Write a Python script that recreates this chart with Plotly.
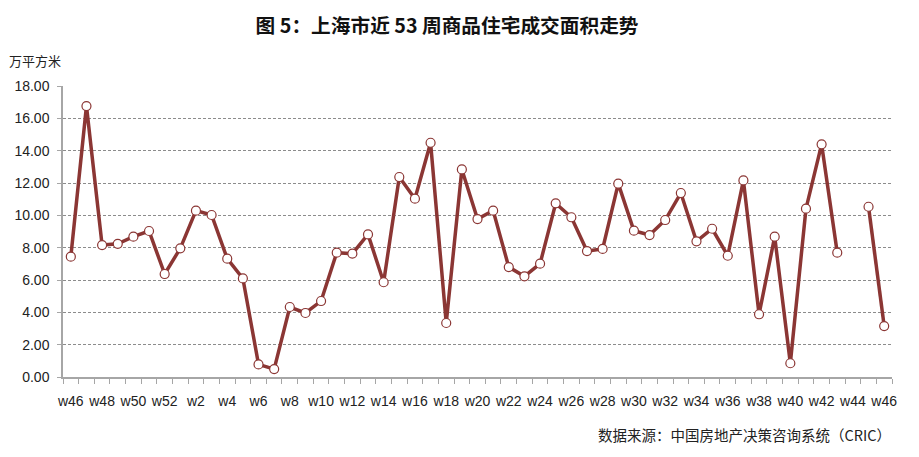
import plotly.graph_objects as go

weeks = ["w46", "w47", "w48", "w49", "w50", "w51", "w52"] + ["w%d" % i for i in range(1, 47)]
values = [7.44, 16.76, 8.16, 8.24, 8.68, 9.03, 6.37,
          7.96, 10.29, 10.02, 7.32, 6.10, 0.78, 0.49, 4.33, 3.96, 4.70,
          7.69, 7.63, 8.82, 5.86, 12.37, 11.03, 14.49, 3.34, 12.84, 9.77,
          10.29, 6.80, 6.23, 7.01, 10.74, 9.88, 7.79, 7.92, 11.96, 9.05,
          8.78, 9.71, 11.38, 8.39, 9.17, 7.50, 12.16, 3.88, 8.68, 0.85,
          10.41, 14.39, 7.69, None, 10.53, 3.15]
y_ticks = [0, 2, 4, 6, 8, 10, 12, 14, 16, 18]

idx = list(range(len(weeks)))
line_color = "#8B3634"

fig = go.Figure()
fig.add_trace(go.Scatter(
    x=idx, y=values, mode="lines+markers",
    line=dict(color=line_color, width=3.5),
    marker=dict(size=9, color="white", line=dict(color=line_color, width=1.2)),
    connectgaps=False, hoverinfo="skip", showlegend=False,
))

fig.update_layout(
    width=919, height=457,
    margin=dict(l=63, r=27, t=86, b=80),
    paper_bgcolor="white", plot_bgcolor="white",
    font=dict(family="Arial", size=14, color="#222"),
    title=dict(text="<b>图 5：上海市近 53 周商品住宅成交面积走势</b>",
               x=0.4865, xanchor="center", y=0.943, yanchor="middle",
               font=dict(family="Noto Sans CJK SC", size=19.7, color="#111")),
)

fig.update_xaxes(
    range=[-0.5, len(weeks) - 0.5],
    tickmode="array", tickvals=idx[::2], ticktext=weeks[::2],
    ticks="", showgrid=False, zeroline=False,
    showline=True, linecolor="#A6A6A6", linewidth=1.5,
    tickfont=dict(family="Arial", size=14, color="#222"),
    ticklabelstandoff=10,
    minor=dict(tickmode="array", tickvals=[i - 0.5 for i in range(len(weeks) + 1)],
               ticks="outside", ticklen=5, tickcolor="#A6A6A6", tickwidth=1, showgrid=False),
)
fig.update_yaxes(
    range=[0, 18], tickmode="array", tickvals=y_ticks,
    ticktext=["%.2f" % v for v in y_ticks],
    showgrid=True, gridcolor="#8C8C8C", griddash="3px,2px", gridwidth=1,
    zeroline=False, showline=True, linecolor="#A6A6A6", linewidth=1.5,
    ticks="outside", ticklen=4, tickcolor="#A6A6A6",
    tickfont=dict(family="Arial", size=14, color="#222"),
    ticklabelstandoff=5,
)

fig.add_annotation(text="万平方米", xref="paper", yref="paper", x=-0.067, y=1.089,
                   xanchor="left", yanchor="middle", showarrow=False,
                   font=dict(family="Noto Sans CJK SC", size=13, color="#222"))
fig.add_annotation(text="数据来源：中国房地产决策咨询系统（CRIC）", xref="paper", yref="paper",
                   x=1.001, y=-0.199, xanchor="right", yanchor="middle", showarrow=False,
                   font=dict(family="Noto Sans CJK SC", size=14.5, color="#222"))

fig.write_html("out.html")
